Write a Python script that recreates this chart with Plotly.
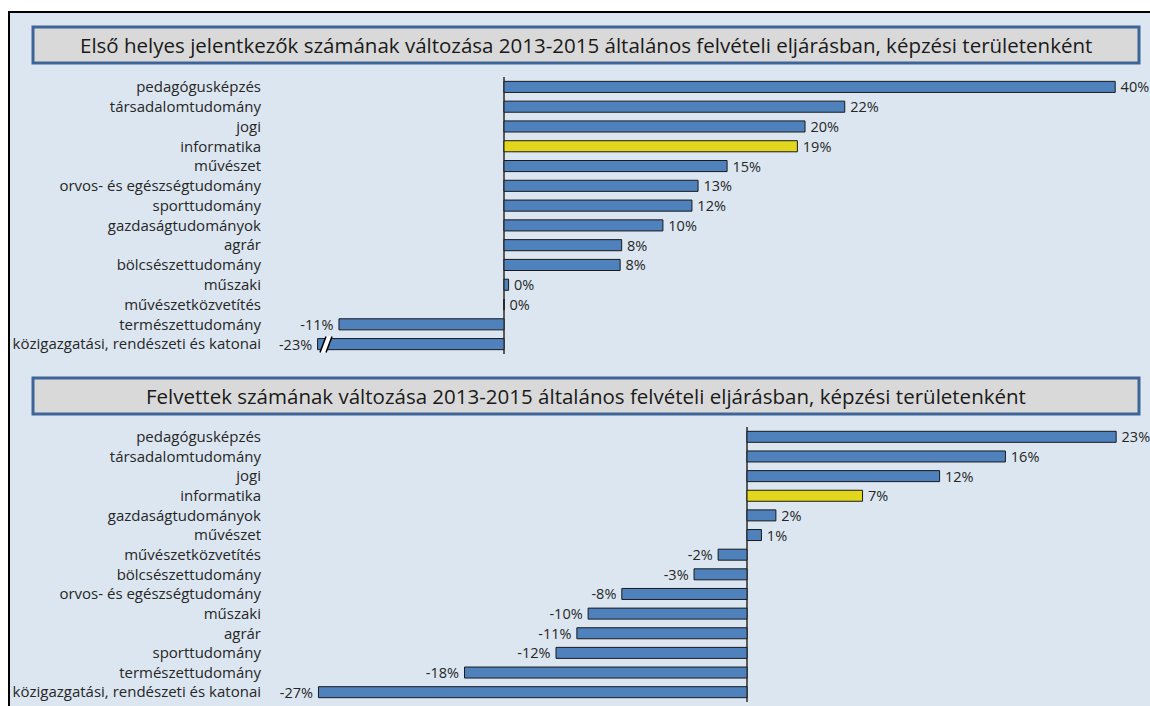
import plotly.graph_objects as go

# ---------------- data ----------------
top_title = "Első helyes jelentkezők számának változása 2013-2015 általános felvételi eljárásban, képzési területenként"
top_categories = ["pedagógusképzés", "társadalomtudomány", "jogi", "informatika", "művészet",
                  "orvos- és egészségtudomány", "sporttudomány", "gazdaságtudományok", "agrár",
                  "bölcsészettudomány", "műszaki", "művészetközvetítés", "természettudomány",
                  "közigazgatási, rendészeti és katonai"]
top_values = [40.0, 22.3, 19.7, 19.2, 14.6, 12.7, 12.3, 10.4, 7.7, 7.6, 0.3, 0.0, -10.8, -23.0]

bottom_title = "Felvettek számának változása 2013-2015 általános felvételi eljárásban, képzési területenként"
bottom_categories = ["pedagógusképzés", "társadalomtudomány", "jogi", "informatika",
                     "gazdaságtudományok", "művészet", "művészetközvetítés", "bölcsészettudomány",
                     "orvos- és egészségtudomány", "műszaki", "agrár", "sporttudomány",
                     "természettudomány", "közigazgatási, rendészeti és katonai"]
bottom_values = [23.0, 16.1, 12.0, 7.2, 1.8, 0.9, -1.8, -3.3, -7.8, -9.9, -10.6, -11.9, -17.6, -26.7]

highlight = "informatika"

# ---------------- style ----------------
W, H = 1150, 706
FONT = "Open Sans, sans-serif"
BLUE = "#4f81bd"
YELLOW = "#e2d71c"
TXT = "#262626"
BREAK_AT = -12.2  # axis break for the top chart
CAT_SIZE = 15
LABEL_SIZE = 14.5
TITLE_SIZE = 20.5
GAP = "\u2009"


def px_x(p):
    return p / W


def px_y(p):
    return 1 - p / H


def fmt(v):
    r = int(round(v))
    return f"{r}%{GAP}" if v < 0 else f"{GAP}{r}%"


fig = go.Figure()

top_display = [max(v, BREAK_AT) for v in top_values]
fig.add_trace(go.Bar(
    y=top_categories, x=top_display, orientation="h",
    marker=dict(color=[YELLOW if c == highlight else BLUE for c in top_categories],
                line=dict(color="#1a1a1a", width=1)),
    text=[fmt(v) for v in top_values], textposition="outside", cliponaxis=False,
    constraintext="none",
    textfont=dict(family=FONT, size=LABEL_SIZE, color=TXT),
    xaxis="x", yaxis="y", showlegend=False, hoverinfo="skip",
))
fig.add_trace(go.Bar(
    y=bottom_categories, x=bottom_values, orientation="h",
    marker=dict(color=[YELLOW if c == highlight else BLUE for c in bottom_categories],
                line=dict(color="#1a1a1a", width=1)),
    text=[fmt(v) for v in bottom_values], textposition="outside", cliponaxis=False,
    constraintext="none",
    textfont=dict(family=FONT, size=LABEL_SIZE, color=TXT),
    xaxis="x2", yaxis="y2", showlegend=False, hoverinfo="skip",
))

dom_x = [px_x(270), px_x(1140)]
top_scale = 15.28
bot_scale = 16.05
xr_top = [(270 - 504) / top_scale, (1140 - 504) / top_scale]
xr_bot = [(270 - 747) / bot_scale, (1140 - 747) / bot_scale]

axis_common = dict(showgrid=False, showticklabels=False, ticks="", fixedrange=True,
                   zeroline=True, zerolinecolor="#595959", zerolinewidth=2, showline=False)
yaxis_common = dict(showgrid=False, ticks="", showline=False, zeroline=False,
                    tickfont=dict(family=FONT, size=CAT_SIZE, color=TXT),
                    range=[13.5, -0.5], ticklabelstandoff=8)

fig.update_layout(
    width=W, height=H,
    margin=dict(l=0, r=0, t=0, b=0),
    paper_bgcolor="white", plot_bgcolor="rgba(0,0,0,0)",
    bargap=0.44,
    font=dict(family=FONT, color=TXT),
    xaxis=dict(domain=dom_x, range=xr_top, anchor="y", **axis_common),
    yaxis=dict(domain=[px_y(354), px_y(77)], anchor="x",
               categoryorder="array", categoryarray=top_categories, **yaxis_common),
    xaxis2=dict(domain=dom_x, range=xr_bot, anchor="y2", **axis_common),
    yaxis2=dict(domain=[px_y(702), px_y(427)], anchor="x2",
                categoryorder="array", categoryarray=bottom_categories, **yaxis_common),
)

shapes = []
# outer background panel
shapes.append(dict(type="rect", xref="paper", yref="paper", layer="below",
                   x0=px_x(9), x1=px_x(1170), y0=px_y(730), y1=px_y(12),
                   fillcolor="#dce6f1", line=dict(color="black", width=2)))
# title boxes
for (y0, y1) in [(27, 63), (378, 414)]:
    shapes.append(dict(type="rect", xref="paper", yref="paper", layer="above",
                       x0=px_x(33), x1=px_x(1139), y0=px_y(y1), y1=px_y(y0),
                       fillcolor="#d9d9d9", line=dict(color="#3f6497", width=3)))


# axis break marker on the last bar of the top chart
def dx(p):
    return (p - 504) / top_scale


yb, yt = 13.42, 12.62
shapes.append(dict(type="path", xref="x", yref="y", layer="above",
                   path=f"M {dx(320)},{yb} L {dx(326)},{yb} L {dx(332)},{yt} L {dx(326)},{yt} Z",
                   fillcolor="white", line=dict(width=0)))
shapes.append(dict(type="line", xref="x", yref="y", layer="above",
                   x0=dx(320), y0=yb, x1=dx(326), y1=yt, line=dict(color="black", width=1.5)))
shapes.append(dict(type="line", xref="x", yref="y", layer="above",
                   x0=dx(326), y0=yb, x1=dx(332), y1=yt, line=dict(color="black", width=1.5)))
fig.update_layout(shapes=shapes)

fig.add_annotation(text=top_title, xref="paper", yref="paper", x=px_x(586), y=px_y(45),
                   showarrow=False, xanchor="center", yanchor="middle",
                   font=dict(family=FONT, size=TITLE_SIZE, color="#1a1a1a"))
fig.add_annotation(text=bottom_title, xref="paper", yref="paper", x=px_x(586), y=px_y(396),
                   showarrow=False, xanchor="center", yanchor="middle",
                   font=dict(family=FONT, size=TITLE_SIZE, color="#1a1a1a"))

fig.write_html("out.html")
